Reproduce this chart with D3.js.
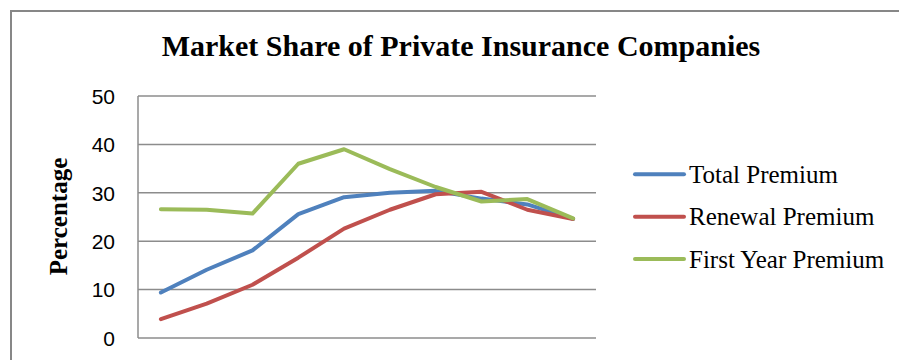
<!DOCTYPE html>
<html>
<head>
<meta charset="utf-8">
<script src="https://cdn.jsdelivr.net/npm/d3@7/dist/d3.min.js"></script>
<style>
  html, body { margin: 0; padding: 0; background: #fff; }
  svg { display: block; }
</style>
</head>
<body>
<svg id="chart" width="899" height="360"></svg>
<script>
// ---- data ----
const categories = ["P1", "P2", "P3", "P4", "P5", "P6", "P7", "P8", "P9", "P10"];
const totalPremium   = [9.4, 14.1, 18.1, 25.6, 29.1, 30.0, 30.4, 28.8, 27.6, 24.6];
const renewalPremium = [3.9, 7.1, 11.0, 16.6, 22.6, 26.5, 29.7, 30.2, 26.5, 24.6];
const firstYearPremium = [26.6, 26.5, 25.7, 36.0, 39.0, 34.9, 31.2, 28.2, 28.7, 24.7];
const seriesNames = ["Total Premium", "Renewal Premium", "First Year Premium"];
const seriesColors = ["#4F81BD", "#C0504D", "#9BBB59"];
const yTicks = [0, 10, 20, 30, 40, 50];
const titleText = "Market Share of Private Insurance Companies";
const yTitle = "Percentage";

const series = [totalPremium, renewalPremium, firstYearPremium].map((v, i) => ({
  name: seriesNames[i], color: seriesColors[i], values: v
}));

const svg = d3.select("#chart");

// outer chart border
svg.append("rect")
  .attr("x", 11).attr("y", 11).attr("width", 900).attr("height", 400)
  .attr("fill", "none").attr("stroke", "#878787").attr("stroke-width", 2);

const x = d3.scaleBand().domain(categories).range([138, 596]).padding(0);
const y = d3.scaleLinear().domain([0, 50]).range([338, 96]);

// gridlines
svg.append("g").selectAll("line").data(yTicks).join("line")
  .attr("x1", 138).attr("x2", 596)
  .attr("y1", d => y(d)).attr("y2", d => y(d))
  .attr("stroke", "#8c8c8c").attr("stroke-width", 1.5);

// left axis line
svg.append("line")
  .attr("x1", 138).attr("x2", 138).attr("y1", y(50)).attr("y2", y(0))
  .attr("stroke", "#8c8c8c").attr("stroke-width", 1.5);

// y tick labels via d3 axis
const yAxis = d3.axisLeft(y).tickValues(yTicks).tickSize(0).tickPadding(0).tickFormat(d3.format("d"));
const gy = svg.append("g").attr("transform", "translate(115,0)").call(yAxis);
gy.select(".domain").remove();
gy.selectAll("text")
  .attr("font-family", "'Liberation Sans', Arial, sans-serif")
  .attr("font-size", 21).attr("fill", "#000")
  .attr("dy", "0.35em");

// title
svg.append("text")
  .attr("x", 461).attr("y", 56).attr("text-anchor", "middle")
  .attr("font-family", "'Liberation Serif', 'Times New Roman', serif")
  .attr("font-weight", "bold").attr("font-size", 30).attr("fill", "#000")
  .text(titleText);

// y title
svg.append("text")
  .attr("transform", "translate(67,216.5) rotate(-90)")
  .attr("text-anchor", "middle")
  .attr("font-family", "'Liberation Serif', 'Times New Roman', serif")
  .attr("font-weight", "bold").attr("font-size", 25).attr("fill", "#000")
  .text(yTitle);

// lines
const line = d3.line()
  .x((d, i) => x(categories[i]) + x.bandwidth() / 2)
  .y(d => y(d));

svg.append("g").selectAll("path").data(series).join("path")
  .attr("d", d => line(d.values))
  .attr("fill", "none")
  .attr("stroke", d => d.color)
  .attr("stroke-width", 4)
  .attr("stroke-linejoin", "round")
  .attr("stroke-linecap", "round");

// legend
const legendY = [174.3, 216.7, 259];
const lg = svg.append("g").selectAll("g").data(series).join("g")
  .attr("transform", (d, i) => `translate(0,${legendY[i]})`);
lg.append("line")
  .attr("x1", 635).attr("x2", 684).attr("y1", 0).attr("y2", 0)
  .attr("stroke", d => d.color).attr("stroke-width", 4).attr("stroke-linecap", "round");
lg.append("text")
  .attr("x", 689).attr("y", 8.5)
  .attr("font-family", "'Liberation Serif', 'Times New Roman', serif")
  .attr("font-size", 25).attr("fill", "#000")
  .text(d => d.name);
</script>
</body>
</html>
